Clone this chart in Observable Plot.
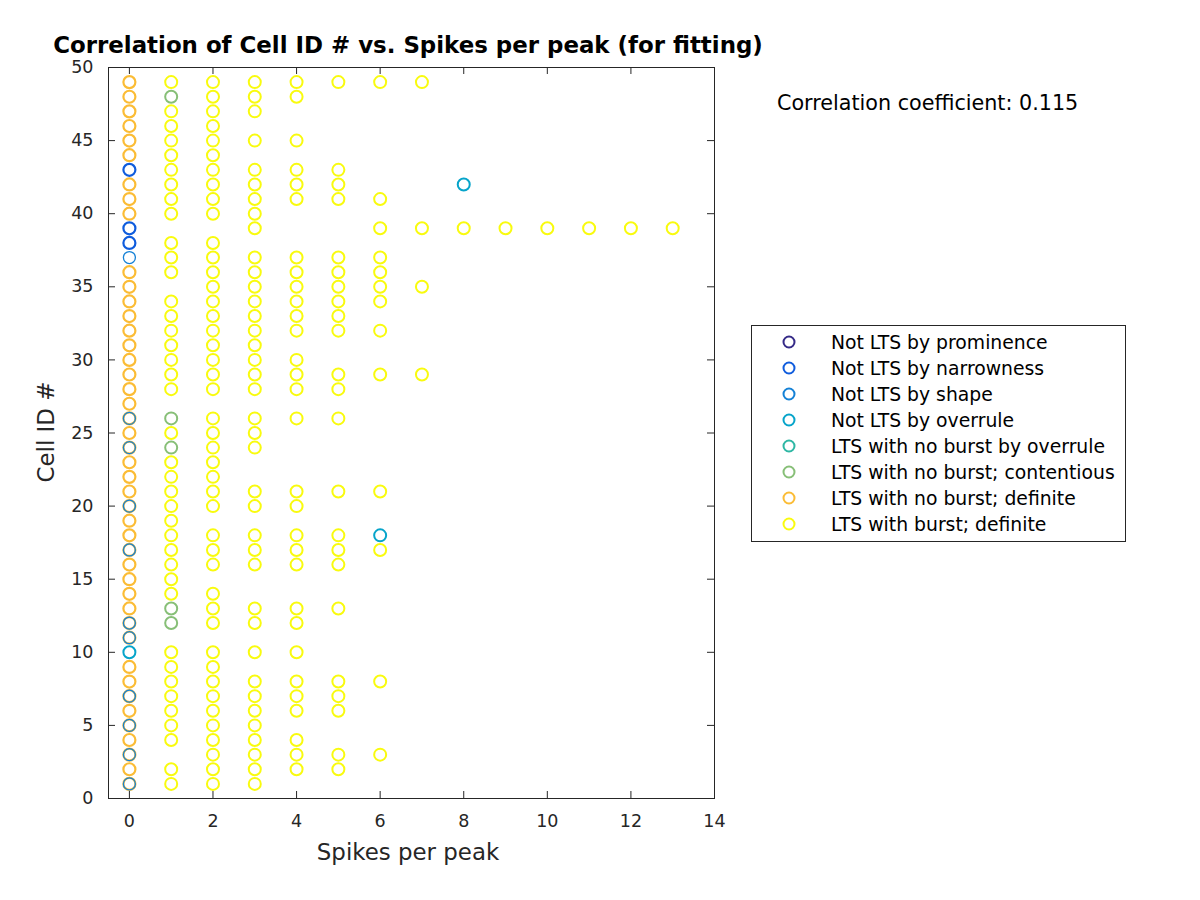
<!DOCTYPE html>
<html>
<head>
<meta charset="utf-8">
<script src="https://cdn.jsdelivr.net/npm/d3@7"></script>
<script src="https://cdn.jsdelivr.net/npm/@observablehq/plot@0.6"></script>
<style>
  html, body { margin: 0; padding: 0; background: #fff; }
  #wrap { position: relative; width: 1200px; height: 900px; font-family: "DejaVu Sans", sans-serif; color: #262626; }
  #wrap > svg { position: absolute; left: 0; top: 0; }
  .abs { position: absolute; white-space: nowrap; line-height: 1; }
  #legend { position: absolute; left: 751px; top: 325px; width: 373px; height: 215px; border: 1px solid #262626; background: #fff; }
  .lg-row { position: absolute; left: 0; height: 26px; display: flex; align-items: center; font-size: 18.8px; color: #000; }
  .lg-row svg { display: block; margin-left: 30px; margin-right: 35px; }
</style>
</head>
<body>
<div id="wrap"></div>
<script>
// ---- data ----
const classNames = [
  "Not LTS by prominence",
  "Not LTS by narrowness",
  "Not LTS by shape",
  "Not LTS by overrule",
  "LTS with no burst by overrule",
  "LTS with no burst; contentious",
  "LTS with no burst; definite",
  "LTS with burst; definite"
];
const classColors = ["#352a87", "#0f5cdd", "#1481d6", "#06a4ca", "#2eb7a4", "#87bf77", "#fbbc35", "#f9fb0e"];

const xTicks = [0, 2, 4, 6, 8, 10, 12, 14];
const yTicks = [0, 5, 10, 15, 20, 25, 30, 35, 40, 45, 50];

// points at 0 spikes per peak
const prominenceCells = [];
const narrownessCells = [38, 39, 43];
const shapeCells = [1, 3, 5, 7, 11, 12, 17, 20, 24, 26, 37];
const overruleSpikes = [0, 6, 8];
const overruleCells = [10, 18, 42];
const noBurstOverruleCells = [];
const contentiousCells = [12, 13, 24, 26, 48]; // at 1 spike per peak
const definiteNoBurstCells = [1,2,3,4,5,6,7,8,9,11,12,13,14,15,16,17,18,19,20,21,22,23,24,25,26,27,28,29,30,31,32,33,34,35,36,40,41,42,44,45,46,47,48,49];

// LTS with burst; definite, by spikes per peak
const burst1 = [1,2,4,5,6,7,8,9,10,14,15,16,17,18,19,20,21,22,23,25,28,29,30,31,32,33,34,36,37,38,40,41,42,43,44,45,46,47,49];
const burst2 = [1,2,3,4,5,6,7,8,9,10,12,13,14,16,17,18,20,21,22,23,24,25,26,28,29,30,31,32,33,34,35,36,37,38,40,41,42,43,44,45,46,47,48,49];
const burst3 = [1,2,3,4,5,6,7,8,10,12,13,16,17,18,20,21,24,25,26,28,29,30,31,32,33,34,35,36,37,39,40,41,42,43,45,47,48,49];
const burst4 = [2,3,4,6,7,8,10,12,13,16,17,18,20,21,26,28,29,30,32,33,34,35,36,37,41,42,43,45,48,49];
const burst5 = [2,3,6,7,8,13,16,17,18,21,26,28,29,32,33,34,35,36,37,41,42,43,49];
const burst6 = [3,8,17,21,29,32,34,35,36,37,39,41,49];
const burst7 = [29,35,39,49];
const burstHighSpikes = [8, 9, 10, 11, 12, 13];
const burstHighCells = [39, 39, 39, 39, 39, 39];

const correlationText = "Correlation coefficient: 0.115";

// ---- build rows ----
const rows = [];
const add = (cls, spikes, cell) => rows.push({cls, spikes, cell});
prominenceCells.forEach(c => add(0, 0, c));
narrownessCells.forEach(c => add(1, 0, c));
overruleCells.forEach((c, i) => add(3, overruleSpikes[i], c));
noBurstOverruleCells.forEach(c => add(4, 0, c));
contentiousCells.forEach(c => add(5, 1, c));
definiteNoBurstCells.forEach(c => add(6, 0, c));
shapeCells.forEach(c => add(2, 0, c));
[burst1, burst2, burst3, burst4, burst5, burst6, burst7].forEach((arr, i) => arr.forEach(c => add(7, i + 1, c)));
burstHighCells.forEach((c, i) => add(7, burstHighSpikes[i], c));

const drawOrder = [0, 1, 3, 4, 5, 6, 2, 7];
const strokeW = {0: 2, 1: 2.2, 2: 1.3, 3: 2, 4: 2, 5: 2, 6: 2.2, 7: 2};

const dotMarks = drawOrder.map(k => Plot.dot(rows.filter(d => d.cls === k), {
  x: "spikes", y: "cell", r: 6, fill: "none", stroke: classColors[k], strokeWidth: strokeW[k]
}));

const W = 1200, H = 900, mL = 108, mR = 486, mT = 67, mB = 102;
const innerW = W - mL - mR, innerH = H - mT - mB, tickLen = 7;

const chart = Plot.plot({
  width: W,
  height: H,
  marginLeft: mL,
  marginRight: mR,
  marginTop: mT,
  marginBottom: mB,
  style: {fontFamily: "DejaVu Sans, sans-serif", fontSize: "17.5px", color: "#262626", background: "transparent"},
  x: {domain: [-0.5, 14]},
  y: {domain: [0, 50]},
  marks: [
    ...dotMarks,
    Plot.axisX({ticks: xTicks, tickSize: 0, tickPadding: 16, label: null, fill: "#262626"}),
    Plot.axisY({ticks: yTicks, tickSize: 0, tickPadding: 15, label: null, fill: "#262626"}),
    Plot.tickX(xTicks, {x: d => d, insetTop: innerH - tickLen, stroke: "#262626"}),
    Plot.tickX(xTicks, {x: d => d, insetBottom: innerH - tickLen, stroke: "#262626"}),
    Plot.tickY(yTicks, {y: d => d, insetRight: innerW - tickLen, stroke: "#262626"}),
    Plot.tickY(yTicks, {y: d => d, insetLeft: innerW - tickLen, stroke: "#262626"}),
    Plot.frame({stroke: "#262626"})
  ]
});

const wrap = document.getElementById("wrap");
wrap.appendChild(chart);

function addText(txt, css) {
  const d = document.createElement("div");
  d.className = "abs";
  d.textContent = txt;
  Object.assign(d.style, css);
  wrap.appendChild(d);
  return d;
}
addText("Correlation of Cell ID # vs. Spikes per peak (for fitting)", {left: "0px", width: "816px", textAlign: "center", top: "36px", lineHeight: "0.85", fontSize: "22.9px", fontWeight: "bold", color: "#000"});
addText("Spikes per peak", {left: "0px", width: "816px", textAlign: "center", top: "841px", fontSize: "22.9px"});
addText("Cell ID #", {left: "46px", top: "432px", fontSize: "22.9px", transform: "translate(-50%, -50%) rotate(-90deg)"});
addText(correlationText, {left: "777px", top: "93px", fontSize: "20.7px", color: "#000"});

const legend = document.createElement("div");
legend.id = "legend";
classNames.forEach((name, i) => {
  const row = document.createElement("div");
  row.className = "lg-row";
  row.style.top = (3 + i * 26) + "px";
  row.innerHTML = `<svg width="14" height="14"><circle cx="7" cy="7" r="5.5" fill="none" stroke="${classColors[i]}" stroke-width="2"/></svg><span></span>`;
  row.querySelector("span").textContent = name;
  legend.appendChild(row);
});
wrap.appendChild(legend);
</script>
</body>
</html>
